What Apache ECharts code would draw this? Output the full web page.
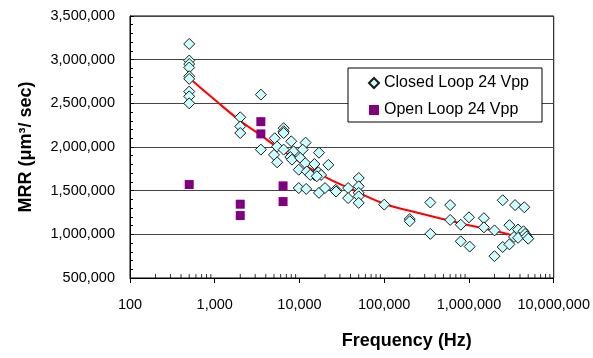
<!DOCTYPE html>
<html>
<head>
<meta charset="utf-8">
<script src="https://cdn.jsdelivr.net/npm/echarts@6/dist/echarts.min.js"></script>
<style>
html, body { margin: 0; padding: 0; background: #fff; }
#chart { width: 593px; height: 358px; }
</style>
</head>
<body>
<div id="chart"></div>
<script>
// closed loop measurements: [frequency Hz, MRR um^3/sec]
var closedLoop = [
  [500, 3180000], [500, 2990000], [500, 2950000], [500, 2910000], [500, 2810000],
  [500, 2780000], [500, 2635000], [500, 2580000], [500, 2500000],
  [2000, 2340000], [2000, 2235000], [2000, 2160000],
  [3500, 2600000], [3500, 1970000],
  [5100, 2100000], [6500, 2215000], [6500, 2180000], [6500, 2160000], [5450, 2005000],
  [5000, 1910000], [5450, 1825000], [6500, 1970000], [8000, 2065000], [8500, 1950000],
  [7800, 1885000], [8150, 1855000], [11800, 2050000], [10900, 1970000], [10200, 1875000],
  [9800, 1740000], [11700, 1815000], [12200, 1720000], [15000, 1805000], [15000, 1680000],
  [17000, 1935000], [16700, 1710000], [18000, 1680000], [21900, 1795000], [13400, 1680000],
  [16000, 1665000],
  [9800, 1530000], [12000, 1520000], [17000, 1475000], [20000, 1530000], [26800, 1510000],
  [27000, 1490000], [37500, 1530000], [37500, 1415000], [50000, 1645000], [50000, 1550000],
  [50000, 1475000], [50000, 1435000], [50000, 1360000],
  [100000, 1340000], [200000, 1175000], [200000, 1150000], [350000, 1365000], [350000, 1005000],
  [600000, 1335000], [600000, 1165000], [800000, 1110000], [800000, 920000], [1000000, 1195000],
  [1020000, 860000], [1500000, 1185000], [1500000, 1080000], [2000000, 1045000], [2000000, 750000],
  [2500000, 1390000], [2500000, 855000], [3000000, 1105000], [3000000, 885000], [3500000, 1335000],
  [4500000, 1310000], [3800000, 1055000], [3400000, 970000], [3800000, 960000], [4400000, 1035000],
  [4600000, 1005000], [4800000, 975000], [5000000, 950000]
];

// open loop measurements
var openLoop = [
  [500, 1570000], [2000, 1345000], [2000, 1215000], [3500, 2290000],
  [3500, 2150000], [6400, 1555000], [6400, 1375000]
];

// red trend curve
var trendLine = [
  [500, 2790000], [1000, 2540000], [2000, 2300000], [3500, 2134000], [5000, 2025000],
  [10000, 1831000], [20000, 1659000], [40000, 1522000], [100000, 1350000], [200000, 1270000],
  [600000, 1156000], [1000000, 1104000], [2000000, 1041000], [3200000, 990000]
];

// log axis minor tick positions (2..9 in each decade)
var xMinorTicks = [];
[100, 1000, 10000, 100000, 1000000].forEach(function (d) {
  for (var k = 2; k <= 9; k++) xMinorTicks.push([d * k, 500000]);
});

var font = 'Liberation Sans, Arial, sans-serif';

function fmt(v) {
  return Math.round(v).toLocaleString('en-US');
}

var chart = echarts.init(document.getElementById('chart'));
chart.setOption({
  animation: false,
  backgroundColor: '#fff',
  textStyle: { fontFamily: font },
  grid: {
    left: 130, right: 36, top: 16, bottom: 80,
    show: true, borderColor: '#000', borderWidth: 1
  },
  legend: {
    orient: 'vertical',
    left: 348, top: 68,
    padding: [7, 13, 4, 20],
    itemGap: 11,
    itemWidth: 10, itemHeight: 10,
    borderColor: '#000', borderWidth: 1,
    backgroundColor: '#fff',
    textStyle: { fontFamily: font, fontSize: 16, color: '#000' },
    data: [
      { name: 'Closed Loop 24 Vpp', icon: 'diamond' },
      { name: 'Open Loop 24 Vpp', icon: 'rect' }
    ]
  },
  xAxis: {
    type: 'log',
    logBase: 10,
    min: 100,
    max: 10000000,
    axisLine: { lineStyle: { color: '#000', width: 1 } },
    axisTick: { show: true, length: 5, lineStyle: { color: '#000' } },
    splitLine: { show: false },
    axisLabel: { formatter: fmt, color: '#000', fontSize: 14.5, margin: 19, fontFamily: font },
    name: 'Frequency (Hz)',
    nameLocation: 'middle',
    nameGap: 54,
    nameTextStyle: { fontFamily: font, fontSize: 18, fontWeight: 'bold', color: '#000', padding: [0, 0, 0, 130] }
  },
  yAxis: {
    type: 'value',
    min: 500000,
    max: 3500000,
    interval: 500000,
    axisLine: { show: true, lineStyle: { color: '#000', width: 1 } },
    axisTick: { show: true, inside: true, length: 4, lineStyle: { color: '#000' } },
    minorTick: { show: true, splitNumber: 5, length: 3, lineStyle: { color: '#000' } },
    splitLine: { show: true, lineStyle: { color: '#444', width: 1 } },
    axisLabel: { formatter: fmt, color: '#000', fontSize: 14.5, margin: 15, fontFamily: font },
    name: 'MRR (μm³/ sec)',
    nameLocation: 'middle',
    nameGap: 95,
    nameTextStyle: { fontFamily: font, fontSize: 18, fontWeight: 'bold', color: '#000' }
  },
  series: [
    {
      type: 'scatter',
      data: xMinorTicks,
      symbol: 'rect',
      symbolSize: [1, 4],
      symbolOffset: [0, -2],
      silent: true,
      itemStyle: { color: '#000' },
      z: 0
    },
    {
      type: 'line',
      data: trendLine,
      symbol: 'none',
      smooth: true,
      silent: true,
      lineStyle: { color: '#ff0000', width: 2 },
      z: 1
    },
    {
      name: 'Closed Loop 24 Vpp',
      type: 'scatter',
      symbol: 'diamond',
      symbolSize: 11,
      itemStyle: { color: '#ccffff', borderColor: '#1a1a1a', borderWidth: 1, opacity: 1 },
      data: closedLoop,
      z: 2
    },
    {
      name: 'Open Loop 24 Vpp',
      type: 'scatter',
      symbol: 'rect',
      symbolSize: 9,
      itemStyle: { color: '#800080', opacity: 1 },
      data: openLoop,
      z: 3
    }
  ]
});
</script>
</body>
</html>
